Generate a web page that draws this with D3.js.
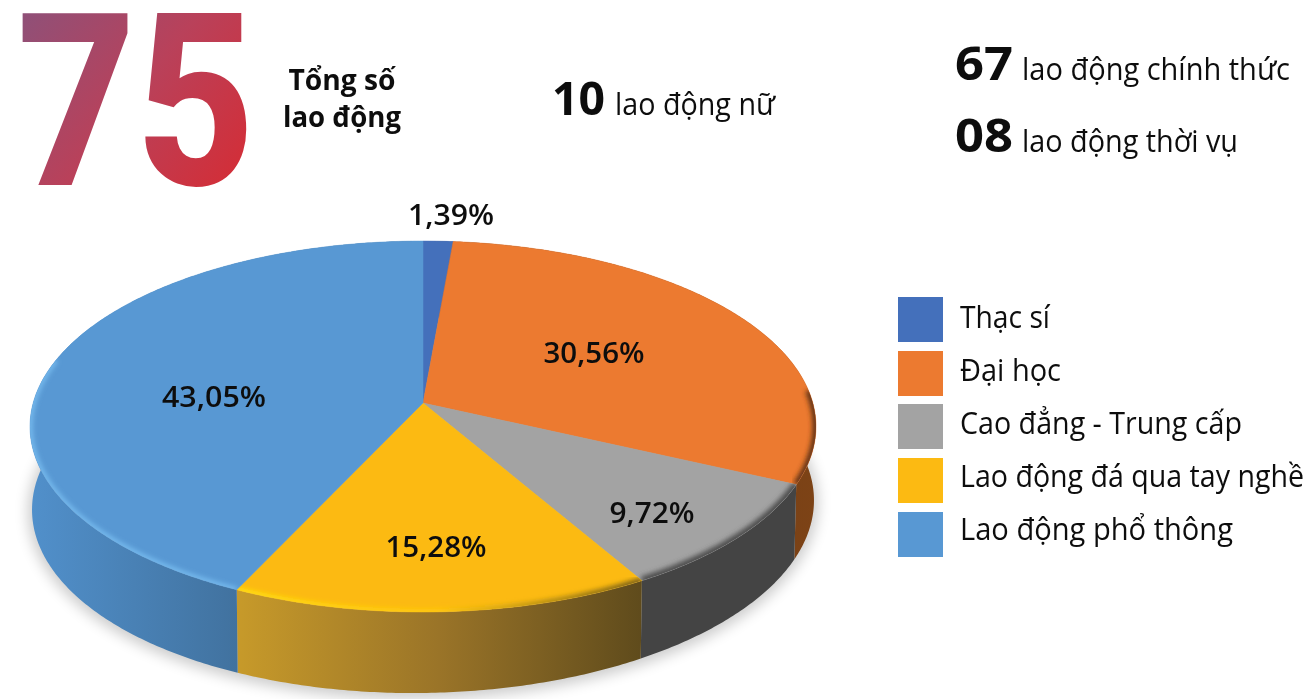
<!DOCTYPE html>
<html><head><meta charset="utf-8">
<script src="https://cdn.jsdelivr.net/npm/d3@7/dist/d3.min.js"></script>
<style>html,body{margin:0;padding:0;background:#fff;overflow:hidden}svg{display:block}</style>
</head><body>
<svg id="c" width="1307" height="699"></svg>
<script>
const categories = ["Thạc sí","Đại học","Cao đẳng - Trung cấp","Lao động đá qua tay nghề","Lao động phổ thông"];
const values = [1.39,30.56,9.72,15.28,43.05];
const valueLabels = ["1,39%","30,56%","9,72%","15,28%","43,05%"];
const topColors = ["#4470bb","#ec7a30","#a3a3a3","#fcba12","#5898d3"];
const sideStops = [["#2f4f85","#2f4f85"],["#5e3012","#7d4316"],["#444444","#444444"],["#c79a2a","#9a7428","#5f4b1c"],["#5190cb","#41729f"]];
const rimStops  = [["#4470bb","#4470bb"],["#5e3012","#5e3012"],["#4c4c4c","#4c4c4c"],["#ffe010","#ffc80f","#6b551a"],["#78bdf0","#78bdf0"]];
const rimRangeDeg = [null,[86,115],[115,150],[150,205],[205,284]];
const rimWidth  = [0,7,8,6,5];
const labelPos  = [[451,225],[594,363],[652,523],[436,557],[214,407]];
const labelWid  = [86,101,85,101,104];
const legendY   = [297,351,404,458,512];
const legendBase= [328,381,434,487,540];
const legendWid = [90,101,282,344,273];

const svg = d3.select("#c");
const defs = svg.append("defs");
const blur = (id,s,m)=>defs.append("filter").attr("id",id).attr("x",-m+"%").attr("y","-10%").attr("width",(100+2*m)+"%").attr("height","120%")
  .append("feGaussianBlur").attr("stdDeviation",s);
blur("shadow",7,20); blur("rim",2.6,20); blur("soft",0.6,1);

const big = defs.append("linearGradient").attr("id","big").attr("gradientUnits","userSpaceOnUse")
  .attr("x1",22).attr("y1",13).attr("x2",240).attr("y2",185);
big.append("stop").attr("offset",0).attr("stop-color","#8f5078");
big.append("stop").attr("offset",.5).attr("stop-color","#b9415a");
big.append("stop").attr("offset",1).attr("stop-color","#d42d36");

// perspective projection of the pie's circle
const cx=423, cy=403, A=389.8, B=182.5, k=-0.1268;
const topPt = t=>{const u=Math.sin(t),v=-Math.cos(t),w=1+k*v;return [cx+A*u/w,cy+B*v/w];};
const botPt = t=>{const p=topPt(t);return [cx+(p[0]-cx)*(391/393),505+(p[1]-426.5)*(188/185.5)-(p[0]-cx)*0.012];};
const line=d3.line();
const arcPts=(f,a,b)=>{const n=Math.max(2,Math.ceil((b-a)/0.01));return d3.range(n+1).map(i=>f(a+(b-a)*i/n));};

const arcs=d3.pie().sort(null).startAngle(0).endAngle(2*Math.PI)(values);
const span=(d,i)=>{const xs=[topPt(d.startAngle)[0],topPt(d.endAngle)[0]];
  return [i==4?30:d3.min(xs), i==4?237:i==1?817:d3.max(xs)];};
const grad=(id,d,i,stops)=>{const [a,b]=span(d,i);
  const g=defs.append("linearGradient").attr("id",id).attr("gradientUnits","userSpaceOnUse")
    .attr("x1",a).attr("x2",b).attr("y1",0).attr("y2",0);
  stops.forEach((c,j)=>g.append("stop").attr("offset",j/(stops.length-1)).attr("stop-color",c));};

// shadow
svg.append("path").attr("d",line(arcPts(botPt,0,2*Math.PI))+"Z")
  .attr("transform","translate(0,2)")
  .attr("fill","#000").attr("stroke","#000").attr("stroke-width",8)
  .attr("opacity",.2).attr("filter","url(#shadow)");

// side walls
arcs.forEach((d,i)=>{
  grad("side"+i,d,i,sideStops[i]);
  const pts=arcPts(topPt,d.startAngle,d.endAngle).concat(arcPts(botPt,d.startAngle,d.endAngle).reverse());
  svg.append("path").attr("d",line(pts)+"Z").attr("fill","url(#side"+i+")");
});

// top faces
arcs.forEach((d,i)=>{
  const pts=[[cx,cy]].concat(arcPts(topPt,d.startAngle,d.endAngle));
  svg.append("path").attr("d",line(pts)+"Z").attr("fill",topColors[i]).attr("stroke",topColors[i]).attr("stroke-width",.5);
});

// bevel along the front rim, kept inside each slice
arcs.forEach((d,i)=>{
  if(!rimRangeDeg[i]) return;
  const inner=arcPts(topPt,d.startAngle,d.endAngle);
  const pts=[[cx,cy]].concat(inner);
  defs.append("clipPath").attr("id","clip"+i).append("path").attr("d",line(pts)+"Z");
  grad("rim"+i,d,i,rimStops[i]);
  const r=rimRangeDeg[i].map(a=>a*Math.PI/180);
  svg.append("g").attr("clip-path","url(#clip"+i+")")
    .append("path").attr("d",line(arcPts(topPt,r[0],r[1]))).attr("fill","none")
    .attr("stroke","url(#rim"+i+")").attr("stroke-width",rimWidth[i]).attr("filter","url(#rim)");
});

// value labels
const fit=(sel,w)=>sel.attr("textLength",w).attr("lengthAdjust","spacingAndGlyphs");
valueLabels.forEach((t,i)=>{
  svg.append("text").attr("x",labelPos[i][0]).attr("y",labelPos[i][1]).attr("text-anchor","middle")
    .attr("font-family","Open Sans").attr("font-size",28).attr("font-weight",600).attr("fill","#111")
    .attr("filter","url(#soft)").call(fit,labelWid[i]).text(t);
});

// legend
categories.forEach((c,i)=>{
  svg.append("rect").attr("x",898).attr("y",legendY[i]).attr("width",45).attr("height",45).attr("fill",topColors[i]);
  svg.append("text").attr("x",960).attr("y",legendBase[i]).attr("font-family","Open Sans").attr("font-size",31)
    .attr("font-weight",500).attr("fill","#111").attr("filter","url(#soft)").call(fit,legendWid[i]).text(c);
});

// headline numbers
const bigNumber=["75"], headLabel=["Tổng số","lao động"], headY=[90,127], headW=[107,118];
svg.append("text").attr("x",17).attr("y",185).attr("font-family","Roboto").attr("font-weight",800).attr("font-size",242)
  .attr("fill","url(#big)").call(fit,238).text(bigNumber[0]);
headLabel.forEach((t,i)=>svg.append("text").attr("x",342).attr("y",headY[i]).attr("text-anchor","middle")
  .attr("font-family","Open Sans").attr("font-weight",700).attr("font-size",29).attr("fill","#111")
  .attr("filter","url(#soft)").call(fit,headW[i]).text(t));

const statNum=["10","67","08"], statText=["lao động nữ","lao động chính thức","lao động thời vụ"];
const statX=[552,955,955], statTX=[615,1022,1022], statY=[115,80,152], statNW=[53,58,58], statTW=[160,268,216];
statNum.forEach((n,i)=>{
  svg.append("text").attr("x",statX[i]).attr("y",statY[i]).attr("font-family","Open Sans").attr("font-weight",700)
    .attr("font-size",46).attr("fill","#111").attr("filter","url(#soft)").call(fit,statNW[i]).text(n);
  svg.append("text").attr("x",statTX[i]).attr("y",statY[i]).attr("font-family","Open Sans").attr("font-weight",500)
    .attr("font-size",31).attr("fill","#111").attr("filter","url(#soft)").call(fit,statTW[i]).text(statText[i]);
});
</script>
</body></html>
